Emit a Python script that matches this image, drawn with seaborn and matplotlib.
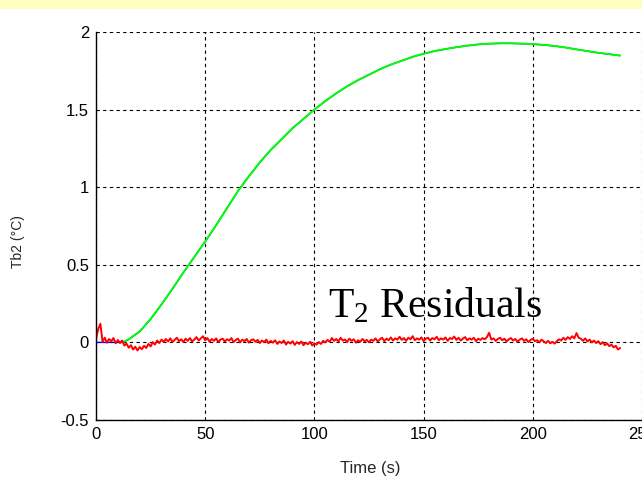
import numpy as np
import pandas as pd
import seaborn as sns
import matplotlib.pyplot as plt
from matplotlib.patches import Rectangle

# Tb2 curve (measured in blue, model in green on top)
t_curve = [0, 5, 10, 12, 13, 15, 20, 25, 30, 35, 40, 45, 50, 55, 60, 65, 70, 75,
           80, 85, 90, 95, 100, 105, 110, 115, 120, 125, 130, 135, 140, 145, 150,
           155, 160, 165, 170, 175, 180, 185, 190, 195, 200, 205, 210, 215, 220,
           225, 230, 235, 240]
tb2_curve = [0.0, 0.0, 0.0, 0.0, 0.005, 0.02, 0.07, 0.15, 0.245, 0.345, 0.45, 0.55,
             0.65, 0.755, 0.865, 0.975, 1.07, 1.16, 1.24, 1.31, 1.38, 1.44, 1.5,
             1.555, 1.605, 1.65, 1.69, 1.725, 1.76, 1.79, 1.815, 1.84, 1.86, 1.877,
             1.89, 1.902, 1.912, 1.92, 1.925, 1.927, 1.927, 1.925, 1.922, 1.917,
             1.91, 1.9, 1.888, 1.877, 1.866, 1.857, 1.848]

# residuals, one per second
t_res = list(range(0, 241))
residuals = [
    0.020, 0.085, 0.120, 0.005, 0.030, -0.002, 0.022, 0.008, 0.028, -0.006,
    0.015, -0.004, 0.012, -0.020, -0.008, -0.034, -0.018, -0.046, -0.028, -0.052,
    -0.030, -0.044, -0.022, -0.036, -0.010, -0.026, 0.002, -0.014, 0.012, -0.004,
    0.018, 0.002, 0.022, 0.006, 0.026, 0.004, 0.016, 0.030, 0.008, 0.020,
    0.002, 0.024, 0.010, 0.028, 0.006, 0.018, 0.034, 0.012, 0.026, 0.040,
    0.014, 0.028, 0.004, 0.022, 0.010, 0.026, 0.002, 0.018, 0.024, 0.006,
    0.020, 0.012, 0.028, 0.002, 0.016, 0.024, 0.000, 0.018, 0.008, 0.022,
    -0.002, 0.014, 0.020, 0.004, 0.016, -0.004, 0.012, 0.002, 0.018, -0.006,
    0.010, -0.002, 0.014, -0.010, 0.006, -0.004, 0.012, -0.014, 0.004, -0.008,
    0.008, -0.016, 0.002, -0.010, 0.006, -0.018, -0.002, -0.012, 0.004, -0.020,
    -0.006, -0.014, 0.002, -0.010, 0.010, 0.000, 0.016, 0.004, 0.028, 0.010,
    0.022, 0.006, 0.030, 0.012, 0.018, 0.002, 0.024, 0.010, 0.020, -0.002,
    0.014, 0.004, 0.022, 0.008, 0.016, 0.000, 0.018, 0.010, 0.026, 0.006,
    0.020, 0.030, 0.008, 0.024, 0.014, 0.032, 0.012, 0.026, 0.018, 0.036,
    0.016, 0.028, 0.010, 0.030, 0.020, 0.040, 0.014, 0.026, 0.018, 0.032,
    0.008, 0.024, 0.030, 0.012, 0.028, 0.020, 0.036, 0.014, 0.026, 0.018,
    0.032, 0.010, 0.028, 0.022, 0.038, 0.016, 0.030, 0.012, 0.024, 0.034,
    0.014, 0.026, 0.018, 0.030, 0.008, 0.024, 0.016, 0.028, 0.020, 0.034,
    0.062, 0.018, 0.026, 0.010, 0.022, 0.030, 0.014, 0.024, 0.006, 0.020,
    0.028, 0.012, 0.022, 0.004, 0.018, 0.026, 0.010, 0.020, 0.002, 0.016,
    0.024, 0.008, 0.014, 0.000, 0.018, 0.006, -0.004, 0.010, -0.006, 0.004,
    -0.008, 0.008, 0.020, 0.012, 0.030, 0.016, 0.034, 0.022, 0.040, 0.026,
    0.060, 0.030, 0.024, 0.010, 0.026, 0.006, 0.018, 0.000, 0.012, -0.004,
    0.008, -0.012, 0.002, -0.018, -0.006, -0.024, -0.014, -0.032, -0.022, -0.046,
    -0.036]

x_ticks = [0, 50, 100, 150, 200, 250]
y_ticks = [-0.5, 0, 0.5, 1, 1.5, 2]
y_ticklabels = ["-0.5", "0", "0.5", "1", "1.5", "2"]

sns.set_style("white")
plt.rcParams['font.family'] = ['Liberation Sans', 'DejaVu Sans']
plt.rcParams['mathtext.fontset'] = 'custom'
plt.rcParams['mathtext.rm'] = 'Liberation Serif'

df_curve = pd.DataFrame({"t": t_curve, "tb2": tb2_curve})
df_fit = df_curve[df_curve["t"] >= 12]
df_res = pd.DataFrame({"t": t_res, "res": residuals})

fig = plt.figure(figsize=(6.42, 4.91), dpi=100)
fig.patches.append(Rectangle((0, 1 - 9 / 491), 1, 9 / 491, transform=fig.transFigure,
                             facecolor='#FFFFBF', edgecolor='none', zorder=0))
ax = fig.add_axes([96 / 642, 71 / 491, 546 / 642, 388 / 491])

sns.lineplot(data=df_curve, x="t", y="tb2", ax=ax, color='#0000FF', lw=1.0,
             estimator=None, sort=False)
sns.lineplot(data=df_fit, x="t", y="tb2", ax=ax, color='#00FF00', lw=1.4,
             estimator=None, sort=False)
sns.lineplot(data=df_res, x="t", y="res", ax=ax, color='#FF0000', lw=1.4,
             estimator=None, sort=False)

ax.set_xlim(0, 250)
ax.set_ylim(-0.5, 2)
ax.set_xticks(x_ticks)
ax.set_yticks(y_ticks)
ax.set_yticklabels(y_ticklabels)
ax.tick_params(direction='in', length=4, width=0.8, labelsize=12, colors='black', pad=5)
ax.grid(True, color='black', linestyle=(0, (3, 3)), linewidth=0.8)

for side in ['top', 'right']:
    ax.spines[side].set_visible(False)
for side in ['left', 'bottom']:
    ax.spines[side].set_color('black')
    ax.spines[side].set_linewidth(1.0)

ax.set_xlabel("Time (s)", fontsize=12)
ax.xaxis.set_label_coords(0.502, -0.105)
ax.set_ylabel("Tb2 (°C)", fontsize=10)
ax.yaxis.set_label_coords(-0.13, 0.46)

ax.text(0.425, 0.265, r"$\mathregular{T_2}$ Residuals", transform=ax.transAxes,
        fontsize=30, family='Liberation Serif', ha='left', va='baseline', color='black')

fig.savefig("out.png", dpi=100)
